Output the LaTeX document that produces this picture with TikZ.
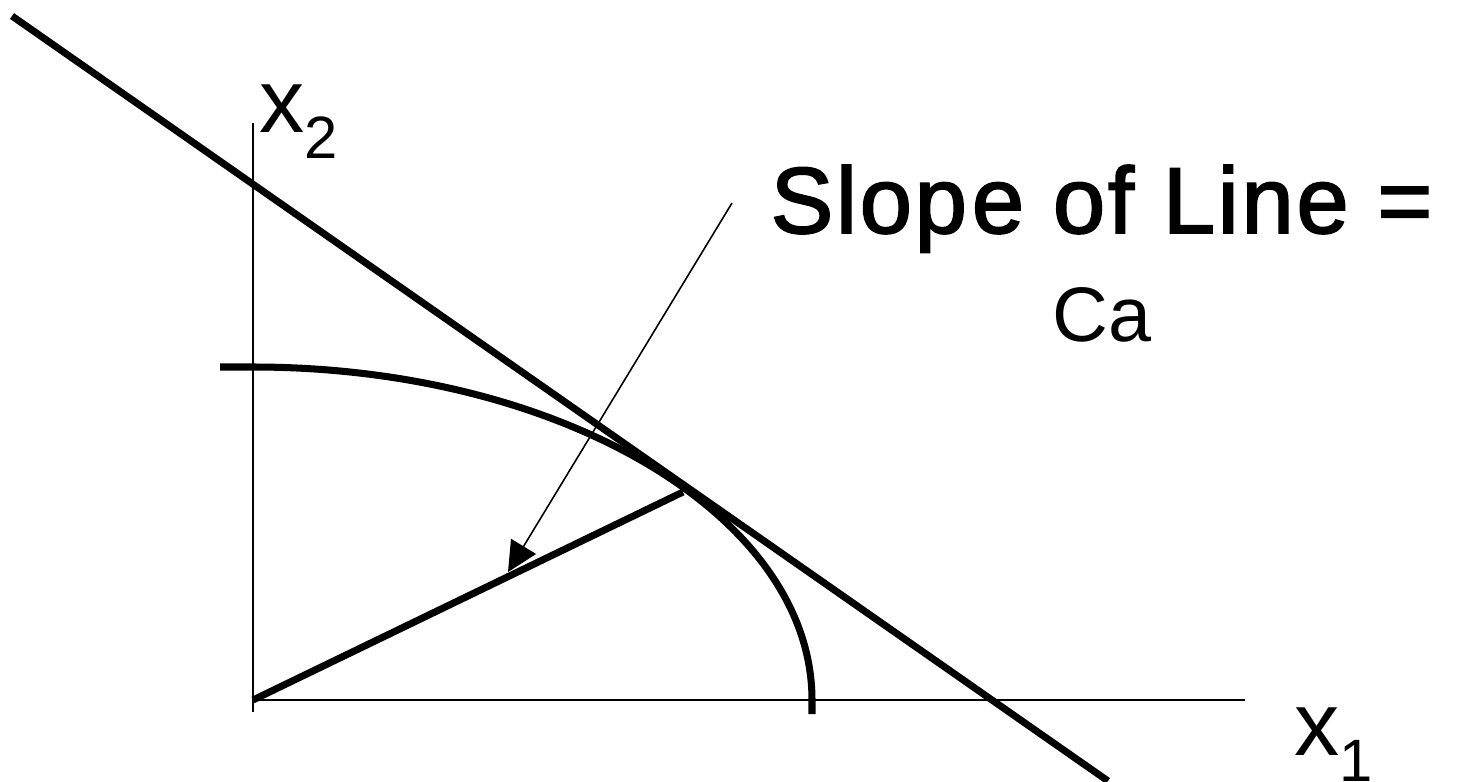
\documentclass[tikz,border=0pt]{standalone}
\usepackage{fontspec}
\setmainfont{Liberation Sans}
\usetikzlibrary{positioning,arrows.meta}
\tikzset{
  ax/.style={line width=0.6pt},
  thk/.style={line width=2pt},
  lbl/.style={inner sep=0pt, font=\fontsize{25.7}{30}\selectfont},
  ptr/.style={-{Triangle[length=3mm, width=2.9mm]}, line width=0.45pt},
}

\begin{document}
\begin{tikzpicture}
        \useasboundingbox (0,0) rectangle (14.6,7.81);
        % axes
        \coordinate (O) at (2.53,0.81);
        \coordinate (ytop) at (2.53,6.58);
        \coordinate (ybot) at (2.53,0.69);
        \coordinate (xend) at (12.45,0.81);
        \draw[ax] (ybot) -- (ytop);
        \draw[ax] (O) -- (xend);
        \node[lbl, anchor=base west] (x2) at (2.59,6.49)
          {x\raisebox{-0.26cm}{\fontsize{17}{20}\selectfont 2}};
        \node[lbl, anchor=base west] (x1) at (12.94,0.26)
          {x\raisebox{-0.26cm}{\fontsize{17}{20}\selectfont 1}};
        % frontier
        \coordinate (ftop) at (2.20,4.14);
        \draw[thk] (ftop) -- (2.53,4.14)
          arc[start angle=90, end angle=0, x radius=5.59, y radius=3.33]
          -- (8.12,0.67);
        % price line and ray
        \coordinate (la) at (0.12,7.65);
        \coordinate (lb) at (11.08,0);
        \draw[thk] (la) -- (lb);
        \coordinate (tp) at (6.83,2.89);
        \draw[thk] (O) -- (tp);
        % label
        \node[inner sep=0pt, anchor=base west,
              font=\fontsize{26.7}{32}\selectfont\addfontfeatures{LetterSpace=3,FakeBold=2}]
          (slope) at (7.70,5.48) {Slop\kern0.05cm e of Line =};
        \node[inner sep=0pt, anchor=base, font=\fontsize{22}{26}\selectfont]
          (ca) at ([yshift=-1.08cm]slope.base) {Ca};
        \coordinate (ps) at (7.32,5.78);
        \coordinate (pe) at (5.08,2.09);
        \draw[ptr] (ps) -- (pe);
      \end{tikzpicture}
\end{document}
